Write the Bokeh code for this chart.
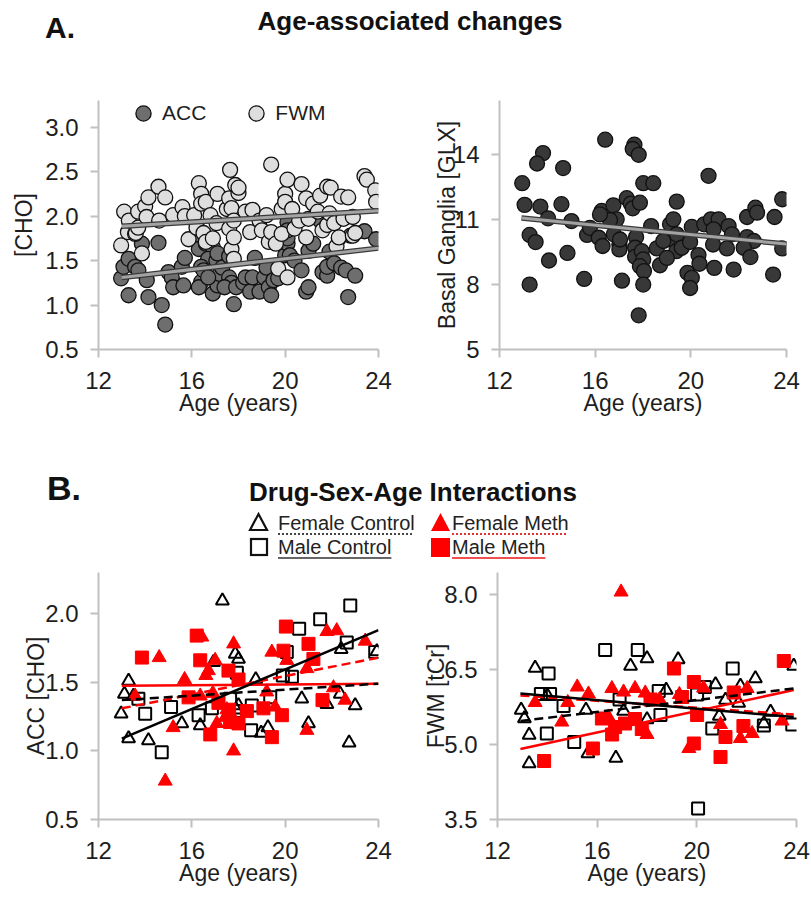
from bokeh.plotting import figure
from bokeh.layouts import column, row
from bokeh.models import (Div, Range1d, FixedTicker, NumeralTickFormatter,
                          Legend, LegendItem)
from bokeh.embed import file_html
from bokeh.resources import INLINE

FONT = "Liberation Sans"

# ------------------------------------------------------------------ data
age_ticks = [12, 16, 20, 24]

# A-left: choline, ACC (dark) and FWM (light)
acc_age = [12.97, 13.07, 13.29, 13.29, 13.57, 13.71, 13.86, 14.07, 14.14, 14.57,
           14.71, 14.86, 15.0, 15.14, 15.2, 15.57, 15.64, 15.7, 16.3, 16.4,
           16.3, 16.6, 16.9, 16.7, 16.4, 16.4, 16.3, 16.5, 16.9, 17.1,
           17.2, 16.7, 17.05, 17.1, 17.3, 17.6, 17.6, 17.7, 17.8, 17.4,
           17.9, 18.2, 18.3, 18.5, 18.6, 18.7, 18.9, 19.1, 19.2, 19.3,
           19.4, 19.5, 19.7, 20.0, 20.1, 20.1, 20.1, 20.1, 20.2, 20.4,
           20.7, 20.9, 21.0, 21.0, 21.2, 21.5, 21.6, 21.8, 21.8, 21.9,
           22.1, 22.3, 22.4, 22.6, 22.7, 22.8, 23.0, 23.4, 23.9]
acc_cho = [1.30, 1.43, 1.52, 1.11, 1.43, 1.39, 1.69, 1.28, 1.09, 1.70,
           1.00, 0.78, 1.37, 1.31, 1.20, 1.43, 1.22, 1.53, 1.84, 1.76,
           1.63, 1.69, 1.65, 1.52, 1.43, 1.26, 1.20, 1.39, 1.13, 1.22,
           1.35, 1.31, 1.50, 1.58, 1.42, 1.31, 1.55, 1.25, 1.01, 1.20,
           1.20, 1.25, 1.31, 1.15, 1.31, 1.53, 1.15, 1.31, 1.42, 1.20,
           1.11, 1.28, 1.30, 1.56, 1.93, 1.69, 1.75, 1.84, 1.56, 1.50,
           1.39, 1.15, 1.20, 1.61, 1.69, 1.95, 1.37, 1.33, 1.43, 1.60,
           1.47, 1.75, 1.42, 1.39, 1.09, 1.78, 1.33, 1.83, 1.74]
fwm_age = [12.97, 13.1, 13.26, 13.3, 13.57, 13.6, 13.7, 13.7, 13.86, 14.0,
           14.06, 14.14, 14.57, 14.6, 14.86, 15.2, 15.6, 15.7, 15.86, 16.1,
           16.2, 16.3, 16.4, 16.4, 16.5, 16.6, 16.6, 16.8, 16.9, 17.06,
           17.1, 17.5, 17.6, 17.6, 17.64, 17.7, 17.7, 17.8, 17.8, 17.8,
           17.86, 18.0, 18.0, 18.3, 18.5, 18.6, 18.9, 19.0, 19.2, 19.3,
           19.4, 19.4, 19.6, 19.7, 19.85, 19.85, 20.0, 20.0, 20.1, 20.1,
           20.3, 20.4, 20.6, 20.7, 20.9, 20.9, 21.0, 21.2, 21.4, 21.5,
           21.6, 21.8, 21.8, 21.9, 21.95, 22.1, 22.2, 22.3, 22.4, 22.5,
           22.7, 22.9, 22.9, 23.0, 23.4, 23.5, 23.86, 23.9]
fwm_cho = [1.67, 2.05, 1.82, 1.95, 1.80, 1.81, 2.05, 1.87, 1.58, 2.11,
           1.99, 2.21, 2.33, 1.95, 2.21, 2.01, 2.10, 2.00, 1.74, 2.01,
           1.87, 2.37, 2.25, 2.14, 1.81, 2.16, 1.71, 2.01, 1.75, 1.92,
           2.25, 2.08, 2.20, 1.86, 2.52, 2.09, 1.63, 1.76, 1.52, 1.95,
           2.35, 2.26, 2.32, 2.05, 1.82, 2.07, 1.95, 1.84, 2.01, 1.71,
           2.58, 1.82, 1.69, 1.41, 2.08, 1.80, 2.25, 2.16, 2.41, 1.31,
           2.08, 1.86, 1.95, 2.36, 2.20, 1.76, 1.97, 2.14, 2.05, 2.23,
           1.84, 2.33, 1.90, 2.03, 2.32, 1.92, 1.66, 1.76, 2.22, 1.97,
           2.21, 1.99, 1.78, 1.81, 2.45, 2.41, 2.29, 2.16]
fit_age = [13.0, 24.0]
acc_fit = [1.31, 1.64]
fwm_fit = [1.885, 2.06]

# A-right: basal ganglia GLX
glx_age = [12.95, 13.82, 13.57, 14.66, 13.05, 13.71, 14.03, 14.59, 13.26, 13.51,
           15.01, 14.07, 14.84, 13.26, 15.54, 15.66, 15.78, 16.42, 16.15, 16.31,
           16.27, 16.62, 16.76, 16.9, 16.62, 16.78, 17.01, 17.01, 17.12, 17.04,
           17.32, 17.49, 17.57, 17.87, 17.64, 17.57, 17.82, 18.01, 18.43, 17.71,
           17.67, 17.67, 17.95, 18.01, 17.87, 18.04, 18.01, 17.82, 18.34, 18.58,
           18.71, 19.41, 19.13, 19.27, 19.06, 19.41, 18.85, 19.39, 19.62, 19.86,
           20.04, 19.97, 20.04, 19.97, 20.32, 20.36, 20.74, 20.56, 20.84, 21.16,
           20.95, 20.93, 20.98, 21.58, 21.72, 21.51, 21.79, 22.35, 22.7, 22.77,
           22.35, 22.63, 22.21, 22.49, 23.5, 23.82, 23.82, 23.44, 19.0, 16.2]
glx_val = [12.68, 14.07, 13.59, 13.38, 11.68, 11.60, 11.06, 11.71, 10.29, 9.96,
           10.93, 9.11, 9.46, 8.0, 8.26, 10.29, 10.62, 14.69, 10.16, 9.78,
           11.40, 11.17, 11.66, 11.01, 10.98, 10.32, 9.85, 9.62, 8.18, 10.08,
           11.99, 11.74, 11.52, 11.78, 14.46, 14.26, 13.99, 12.68, 12.68, 10.19,
           9.70, 9.28, 9.54, 9.16, 8.85, 8.62, 8.0, 6.58, 10.70, 9.67,
           8.89, 11.83, 10.78, 11.01, 10.09, 10.32, 10.01, 9.54, 9.70, 8.54,
           8.31, 7.84, 10.66, 9.97, 9.36, 8.96, 13.02, 10.78, 11.01, 11.01,
           10.55, 9.85, 8.77, 10.70, 10.32, 9.67, 8.69, 11.12, 11.55, 11.32,
           10.19, 10.01, 9.70, 9.27, 11.12, 11.94, 9.67, 8.46, 9.23, 11.24]
glx_fit_age = [12.92, 24.0]
glx_fit = [11.07, 9.87]

# B-left: ACC [CHO] by group
fc_acc_age = [17.31, 13.29, 13.11, 13.5, 12.97, 13.29, 14.14, 15.57, 16.36, 16.93,
              17.86, 18.0, 18.0, 18.74, 18.97, 19.26, 20.71, 21.0, 21.79, 22.4,
              22.36, 23.0, 22.74, 23.93, 17.9]
fc_acc = [2.095, 1.51, 1.415, 1.40, 1.27, 1.09, 1.075, 1.20, 1.185, 1.646,
          1.707, 1.67, 1.33, 1.52, 1.13, 1.17, 1.38, 1.20, 1.34, 1.74,
          1.415, 1.33, 1.06, 1.725, 1.30]
mc_acc_age = [22.79, 21.5, 20.6, 22.64, 23.86, 20.07, 20.29, 17.93, 13.71, 14.0,
              15.11, 14.71, 16.29, 16.86, 17.64, 17.86, 18.57, 18.54, 19.36, 19.9]
mc_acc = [2.06, 1.96, 1.89, 1.79, 1.72, 1.72, 1.54, 1.57, 1.38, 1.27,
          1.32, 0.99, 1.26, 1.31, 1.38, 1.29, 1.33, 1.15, 1.39, 1.55]
fm_acc_age = [14.6, 14.86, 15.69, 15.2, 16.43, 17.0, 16.71, 17.79, 17.07, 17.79,
              17.43, 19.43, 19.21, 19.57, 20.07, 20.93, 20.93, 21.79, 22.21, 22.07,
              22.57, 23.43, 13.57, 16.36, 16.9, 17.5, 16.6]
fm_acc = [1.68, 0.78, 1.52, 1.17, 1.83, 1.66, 1.585, 1.78, 1.20, 1.00,
          1.245, 1.72, 1.43, 1.32, 1.66, 1.15, 1.60, 1.87, 1.876, 1.46,
          1.37, 1.80, 1.40, 1.40, 1.42, 1.30, 1.55]
mm_acc_age = [13.86, 16.21, 16.36, 17.57, 18.0, 15.86, 17.14, 18.36, 19.07, 19.86,
              16.79, 17.64, 18.0, 19.43, 20.03, 19.93, 21.0, 21.21, 21.6, 17.6]
mm_acc = [1.68, 1.84, 1.66, 1.585, 1.52, 1.39, 1.35, 1.29, 1.31, 1.26,
          1.12, 1.21, 1.20, 1.10, 1.906, 1.73, 1.78, 1.67, 1.37, 1.30]
acc_ctrl_solid = [1.09, 1.88]
acc_ctrl_dash = [1.37, 1.49]
acc_meth_solid = [1.475, 1.49]
acc_meth_dash = [1.31, 1.68]

# B-right: FWM [tCr] by group
fc_fwm_age = [13.51, 12.95, 13.08, 13.27, 13.27, 15.55, 15.63, 16.75, 17.34, 18.0,
              17.06, 19.25, 20.75, 22.35, 23.89, 18.77, 21.75, 21.15, 22.96, 20.9,
              22.69, 21.68, 14.0, 18.0]
fc_fwm = [6.53, 5.69, 5.52, 5.19, 4.62, 5.69, 4.82, 4.73, 6.57, 6.72,
          5.67, 6.70, 6.2, 6.32, 6.57, 6.09, 6.17, 5.89, 5.65, 5.57,
          5.42, 5.83, 5.98, 5.5]
mc_fwm_age = [16.32, 17.63, 14.05, 13.74, 14.11, 14.65, 13.98, 15.08, 21.44, 18.47,
              20.32, 20.01, 18.54, 20.62, 22.69, 23.83, 20.05, 16.9]
mc_fwm = [6.89, 6.89, 6.42, 6.01, 6.01, 5.77, 5.22, 5.05, 6.52, 6.07,
          6.15, 6.0, 5.59, 5.32, 5.38, 5.4, 3.72, 5.9]
fm_fwm_age = [16.96, 15.2, 13.51, 15.65, 14.82, 14.58, 16.59, 17.06, 17.52, 17.93,
              16.45, 20.95, 21.75, 22.22, 19.68, 20.27, 22.02, 23.42, 18.0, 19.3, 18.5]
fm_fwm = [8.05, 6.15, 5.84, 6.01, 5.84, 5.45, 6.12, 6.05, 6.12, 6.03,
          5.55, 5.4, 5.12, 5.22, 4.92, 6.13, 6.12, 5.47, 5.2, 6.0, 5.9]
mm_fwm_age = [13.87, 15.83, 16.19, 16.72, 17.12, 17.52, 17.79, 19.08, 23.49, 19.88,
              19.41, 20.01, 21.15, 20.95, 19.88, 21.87, 21.48, 18.14, 16.6]
mm_fwm = [4.67, 4.92, 5.52, 5.35, 5.42, 5.51, 5.31, 6.52, 6.67, 6.25,
          5.95, 5.59, 5.15, 4.75, 5.02, 5.37, 6.04, 5.9, 5.2]
fwm_fit_age = [12.92, 23.89]
fwm_ctrl_solid = [6.02, 5.55]
fwm_ctrl_dash = [5.47, 6.12]
fwm_meth_solid = [4.91, 6.09]
fwm_meth_dash = [5.98, 5.60]


# ------------------------------------------------------------------ helpers
def make_fig(width, height, yr, yticks, yfmt, ylabel, bl, br, bt, bb, ylab_standoff):
    p = figure(width=width, height=height, x_range=Range1d(12, 24),
               y_range=Range1d(*yr), output_backend="svg", toolbar_location=None,
               min_border_left=bl, min_border_right=br, min_border_top=bt,
               min_border_bottom=bb, margin=(0, 0, 0, 0))
    p.xgrid.visible = False
    p.ygrid.visible = False
    p.outline_line_color = None
    p.background_fill_color = "white"
    p.border_fill_color = "white"
    p.xaxis.ticker = FixedTicker(ticks=age_ticks)
    p.yaxis.ticker = FixedTicker(ticks=yticks)
    p.yaxis.formatter = NumeralTickFormatter(format=yfmt)
    p.xaxis.formatter = NumeralTickFormatter(format="0")
    p.xaxis.axis_label = "Age (years)"
    p.yaxis.axis_label = ylabel
    for ax in (p.xaxis[0], p.yaxis[0]):
        ax.axis_line_color = "#c0c0c0"
        ax.axis_line_width = 2
        ax.major_tick_line_color = "#c0c0c0"
        ax.major_tick_line_width = 2
        ax.major_tick_out = 8
        ax.major_tick_in = 0
        ax.minor_tick_out = 0
        ax.minor_tick_in = 0
        ax.major_label_text_font = FONT
        ax.major_label_text_font_size = "24px"
        ax.major_label_text_color = "#1e1e1e"
        ax.axis_label_text_font = FONT
        ax.axis_label_text_font_size = "23px"
        ax.axis_label_text_font_style = "normal"
        ax.axis_label_text_color = "#1e1e1e"
    p.xaxis[0].major_label_standoff = 14
    p.xaxis[0].axis_label_standoff = -2
    p.yaxis[0].major_label_standoff = 12
    p.yaxis[0].axis_label_standoff = ylab_standoff
    return p


def gray_fit(p, xs, ys):
    p.line(xs, ys, line_color="#3a3a3a", line_width=5.5)
    p.line(xs, ys, line_color="#a3a3a3", line_width=3)


# ------------------------------------------------------------------ panel A
pa1 = make_fig(408, 369, (0.5, 3.3), [0.5, 1.0, 1.5, 2.0, 2.5, 3.0], "0.0",
               "[CHO]", 98, 30, 40, 80, 5)
r_acc = pa1.scatter(acc_age, acc_cho, marker="circle", size=15,
                    fill_color="#6e6e6e", line_color="#111111", line_width=1.3)
r_fwm = pa1.scatter(fwm_age, fwm_cho, marker="circle", size=15,
                    fill_color="#dedede", line_color="#111111", line_width=1.3)
gray_fit(pa1, fit_age, fwm_fit)
gray_fit(pa1, fit_age, acc_fit)
leg = Legend(items=[LegendItem(label="ACC", renderers=[r_acc]),
                    LegendItem(label="FWM", renderers=[r_fwm])],
             orientation="horizontal", location=(26, 217),
             glyph_width=38, glyph_height=38, label_standoff=-9, spacing=31,
             padding=0, margin=0, border_line_color=None,
             background_fill_alpha=0, label_text_font=FONT,
             label_text_font_size="21px", label_text_color="#1e1e1e")
pa1.add_layout(leg)

pa2 = make_fig(403, 369, (5, 16.5), [5, 8, 11, 14], "0",
               "Basal Ganglia [GLX]", 91, 25, 40, 80, -10)
pa2.scatter(glx_age, glx_val, marker="circle", size=15,
            fill_color="#383838", line_color="#111111", line_width=1.3)
gray_fit(pa2, glx_fit_age, glx_fit)

# ------------------------------------------------------------------ panel B
RED = "#ff0000"

pb1 = make_fig(408, 337, (0.5, 2.3), [0.5, 1.0, 1.5, 2.0], "0.0",
               "ACC [CHO]", 98, 30, 12, 78, -7)
pb1.scatter(fc_acc_age, fc_acc, marker="triangle", size=13, fill_color=None,
            line_color="black", line_width=2)
pb1.scatter(mc_acc_age, mc_acc, marker="square", size=12, fill_color=None,
            line_color="black", line_width=2)
pb1.scatter(fm_acc_age, fm_acc, marker="triangle", size=14, fill_color=RED,
            line_color=RED, line_width=1)
pb1.scatter(mm_acc_age, mm_acc, marker="square", size=13, fill_color=RED,
            line_color=RED, line_width=1)
pb1.line(fit_age, acc_meth_solid, line_color=RED, line_width=2.5)
pb1.line(fit_age, acc_meth_dash, line_color=RED, line_width=2.5, line_dash="9 5")
pb1.line(fit_age, acc_ctrl_dash, line_color="black", line_width=2.5, line_dash="9 5")
pb1.line(fit_age, acc_ctrl_solid, line_color="black", line_width=2.5)

pb2 = make_fig(403, 337, (3.5, 8.44), [3.5, 5.0, 6.5, 8.0], "0.0",
               "FWM [tCr]", 89, 15, 12, 78, -8)
pb2.scatter(fc_fwm_age, fc_fwm, marker="triangle", size=13, fill_color=None,
            line_color="black", line_width=2)
pb2.scatter(mc_fwm_age, mc_fwm, marker="square", size=12, fill_color=None,
            line_color="black", line_width=2)
pb2.scatter(fm_fwm_age, fm_fwm, marker="triangle", size=14, fill_color=RED,
            line_color=RED, line_width=1)
pb2.scatter(mm_fwm_age, mm_fwm, marker="square", size=13, fill_color=RED,
            line_color=RED, line_width=1)
pb2.line(fwm_fit_age, fwm_meth_dash, line_color=RED, line_width=2.5, line_dash="9 5")
pb2.line(fwm_fit_age, fwm_meth_solid, line_color=RED, line_width=2.5)
pb2.line(fwm_fit_age, fwm_ctrl_dash, line_color="black", line_width=2.5, line_dash="9 5")
pb2.line(fwm_fit_age, fwm_ctrl_solid, line_color="black", line_width=2.5)

# ------------------------------------------------------------------ headers
S = "position:absolute;white-space:nowrap;line-height:1;font-family:'Liberation Sans',Arial,sans-serif;"
head_a = Div(width=811, height=60, margin=(0, 0, 0, 0), text=(
    '<div style="position:relative;width:811px;height:60px;">'
    f'<span style="{S}left:45px;top:13px;font-size:30px;font-weight:bold;color:#111;">A.</span>'
    f'<div style="{S}left:0px;top:8px;width:820px;text-align:center;font-size:26px;'
    'font-weight:bold;color:#111;">Age-associated changes</div>'
    '</div>'))

LEG = "font-size:20px;color:#222;text-underline-offset:3px;text-decoration-thickness:1px;"
head_b = Div(width=811, height=131, margin=(0, 0, 0, 0), text=(
    '<div style="position:relative;width:811px;height:131px;">'
    f'<span style="{S}left:47px;top:42px;font-size:34px;font-weight:bold;color:#111;">B.</span>'
    f'<div style="{S}left:0px;top:50px;width:826px;text-align:center;font-size:26px;'
    'font-weight:bold;color:#111;">Drug-Sex-Age Interactions</div>'
    '<svg style="position:absolute;left:0;top:0;" width="811" height="131">'
    '<polygon points="250,101 258.5,85 267,101" fill="none" stroke="#111" stroke-width="2.2"/>'
    '<polygon points="431,102 440.5,84 450,102" fill="#ff0000"/>'
    '<rect x="251" y="110" width="16" height="16" fill="none" stroke="#111" stroke-width="2.2"/>'
    '<rect x="431" y="109" width="19" height="19" fill="#ff0000"/>'
    '</svg>'
    f'<span style="{S}{LEG}left:278px;top:84px;text-decoration:underline dotted #444;">Female Control</span>'
    f'<span style="{S}{LEG}left:452px;top:84px;text-decoration:underline dotted #e03030;">Female Meth</span>'
    f'<span style="{S}{LEG}left:278px;top:108px;text-decoration:underline solid #666;">Male Control</span>'
    f'<span style="{S}{LEG}left:452px;top:108px;text-decoration:underline solid #f05050;">Male Meth</span>'
    '</div>'))

layout = column(head_a, row(pa1, pa2, spacing=0), head_b, row(pb1, pb2, spacing=0),
                spacing=0)

open("out.html", "w").write(file_html(layout, INLINE))
